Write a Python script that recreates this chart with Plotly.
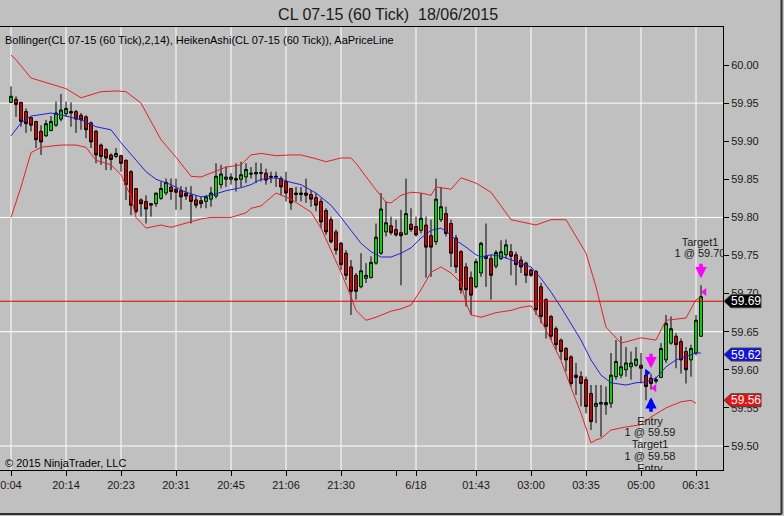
import plotly.graph_objects as go

# Heiken Ashi bars (60 tick), index = bar number
bars = list(range(139))
ha_open = [
    59.951, 59.955, 59.951, 59.939, 59.931, 59.926, 59.913, 59.907, 59.914, 59.921,
    59.929, 59.936, 59.939, 59.939, 59.934, 59.932, 59.924, 59.913, 59.895, 59.889,
    59.882, 59.880, 59.881, 59.875, 59.860, 59.838, 59.823, 59.821, 59.816, 59.818,
    59.825, 59.832, 59.840, 59.837, 59.835, 59.832, 59.829, 59.823, 59.822, 59.821,
    59.824, 59.828, 59.843, 59.850, 59.850, 59.851, 59.850, 59.853, 59.858, 59.857,
    59.859, 59.858, 59.854, 59.854, 59.851, 59.847, 59.838, 59.832, 59.830, 59.832,
    59.830, 59.826, 59.821, 59.809, 59.797, 59.781, 59.766, 59.753, 59.735, 59.724,
    59.709, 59.720, 59.721, 59.740, 59.753, 59.781, 59.789, 59.784, 59.780, 59.778,
    59.791, 59.788, 59.783, 59.790, 59.776, 59.768, 59.797, 59.805, 59.792, 59.773,
    59.755, 59.735, 59.721, 59.709, 59.727, 59.746, 59.746, 59.736, 59.746, 59.751,
    59.755, 59.751, 59.744, 59.740, 59.731, 59.729, 59.709, 59.692, 59.670, 59.654,
    59.639, 59.628, 59.617, 59.593, 59.591, 59.587, 59.569, 59.552, 59.555, 59.554,
    59.556, 59.591, 59.593, 59.600, 59.604, 59.606, 59.606, 59.593, 59.589, 59.585,
    59.590, 59.613, 59.635, 59.644, 59.637, 59.624, 59.613, 59.622, 59.644,
]
ha_high = [
    59.972, 59.959, 59.951, 59.943, 59.932, 59.926, 59.921, 59.928, 59.933, 59.952,
    59.962, 59.952, 59.951, 59.941, 59.937, 59.934, 59.926, 59.915, 59.897, 59.891,
    59.884, 59.891, 59.882, 59.876, 59.862, 59.838, 59.825, 59.829, 59.819, 59.832,
    59.847, 59.851, 59.851, 59.851, 59.841, 59.840, 59.841, 59.829, 59.827, 59.829,
    59.840, 59.871, 59.869, 59.867, 59.858, 59.871, 59.873, 59.871, 59.866, 59.872,
    59.871, 59.864, 59.860, 59.860, 59.854, 59.860, 59.838, 59.840, 59.840, 59.851,
    59.836, 59.832, 59.825, 59.812, 59.801, 59.784, 59.768, 59.757, 59.744, 59.727,
    59.753, 59.740, 59.749, 59.792, 59.832, 59.821, 59.801, 59.797, 59.810, 59.851,
    59.812, 59.801, 59.832, 59.801, 59.797, 59.851, 59.840, 59.814, 59.797, 59.777,
    59.757, 59.740, 59.729, 59.746, 59.768, 59.792, 59.751, 59.757, 59.770, 59.771,
    59.765, 59.755, 59.749, 59.742, 59.733, 59.731, 59.714, 59.694, 59.672, 59.657,
    59.641, 59.630, 59.619, 59.609, 59.598, 59.591, 59.580, 59.580, 59.580, 59.578,
    59.622, 59.639, 59.644, 59.630, 59.624, 59.630, 59.622, 59.600, 59.595, 59.591,
    59.635, 59.672, 59.670, 59.648, 59.641, 59.630, 59.633, 59.672, 59.711,
]
ha_low = [
    59.950, 59.932, 59.919, 59.911, 59.913, 59.891, 59.882, 59.906, 59.913, 59.919,
    59.926, 59.932, 59.919, 59.911, 59.915, 59.904, 59.891, 59.871, 59.869, 59.862,
    59.862, 59.878, 59.860, 59.823, 59.803, 59.805, 59.801, 59.792, 59.801, 59.814,
    59.823, 59.829, 59.823, 59.810, 59.810, 59.823, 59.792, 59.812, 59.812, 59.812,
    59.814, 59.825, 59.838, 59.840, 59.843, 59.834, 59.840, 59.845, 59.851, 59.845,
    59.847, 59.843, 59.845, 59.840, 59.829, 59.821, 59.810, 59.821, 59.821, 59.819,
    59.814, 59.808, 59.786, 59.777, 59.766, 59.751, 59.731, 59.718, 59.672, 59.692,
    59.707, 59.714, 59.720, 59.738, 59.751, 59.775, 59.777, 59.775, 59.711, 59.777,
    59.781, 59.775, 59.779, 59.721, 59.722, 59.764, 59.794, 59.775, 59.735, 59.727,
    59.700, 59.683, 59.672, 59.707, 59.722, 59.709, 59.692, 59.733, 59.744, 59.746,
    59.724, 59.711, 59.727, 59.714, 59.722, 59.672, 59.661, 59.641, 59.639, 59.626,
    59.613, 59.598, 59.578, 59.567, 59.552, 59.543, 59.521, 59.530, 59.512, 59.541,
    59.550, 59.587, 59.589, 59.591, 59.587, 59.604, 59.582, 59.560, 59.574, 59.582,
    59.589, 59.609, 59.633, 59.602, 59.595, 59.582, 59.591, 59.619, 59.644,
]
ha_close = [
    59.959, 59.948, 59.926, 59.923, 59.921, 59.902, 59.899, 59.923, 59.926, 59.937,
    59.941, 59.943, 59.937, 59.929, 59.928, 59.915, 59.899, 59.882, 59.880, 59.878,
    59.876, 59.884, 59.871, 59.843, 59.816, 59.808, 59.818, 59.811, 59.818, 59.832,
    59.838, 59.846, 59.834, 59.833, 59.827, 59.828, 59.821, 59.816, 59.818, 59.827,
    59.832, 59.854, 59.857, 59.853, 59.853, 59.849, 59.856, 59.863, 59.857, 59.859,
    59.858, 59.849, 59.853, 59.853, 59.840, 59.832, 59.819, 59.830, 59.832, 59.829,
    59.824, 59.816, 59.794, 59.781, 59.768, 59.757, 59.738, 59.724, 59.703, 59.703,
    59.730, 59.724, 59.741, 59.774, 59.811, 59.793, 59.780, 59.777, 59.776, 59.805,
    59.784, 59.777, 59.799, 59.761, 59.761, 59.824, 59.814, 59.779, 59.753, 59.735,
    59.705, 59.705, 59.698, 59.742, 59.766, 59.749, 59.724, 59.754, 59.755, 59.764,
    59.749, 59.738, 59.735, 59.724, 59.724, 59.679, 59.670, 59.657, 59.644, 59.633,
    59.624, 59.613, 59.582, 59.590, 59.582, 59.552, 59.532, 59.556, 59.557, 59.557,
    59.593, 59.611, 59.604, 59.609, 59.609, 59.614, 59.602, 59.578, 59.582, 59.587,
    59.628, 59.661, 59.654, 59.633, 59.613, 59.600, 59.628, 59.665, 59.696,
]

# Bollinger(2,14)
upper_x = [0, 1, 4, 6, 8, 10, 11, 14, 18, 21, 23, 26, 28, 30, 33, 36, 38, 40, 43, 46,
           48, 50, 53, 56, 58, 61, 63, 66, 68, 69, 71, 73, 75, 76, 78, 80, 82, 84, 85, 88,
           90, 93, 96, 98, 100, 105, 108, 111, 115, 117, 119, 122, 126, 129, 131, 135, 137, 138]
upper = [60.013, 60.007, 59.983, 59.979, 59.976, 59.971, 59.969, 59.957, 59.965, 59.966,
         59.965, 59.950, 59.925, 59.902, 59.879, 59.854, 59.853, 59.858, 59.866, 59.869,
         59.882, 59.884, 59.881, 59.882, 59.882, 59.877, 59.873, 59.878, 59.878, 59.871,
         59.853, 59.836, 59.820, 59.819, 59.829, 59.833, 59.832, 59.829, 59.840, 59.837,
         59.852, 59.845, 59.833, 59.815, 59.797, 59.790, 59.797, 59.797, 59.753, 59.709,
         59.656, 59.635, 59.642, 59.639, 59.665, 59.668, 59.692, 59.695]
mid_x = [0, 2, 4, 8, 11, 14, 17, 20, 22, 25, 27, 29, 32, 35, 38, 40, 43, 46, 48, 50,
         53, 56, 58, 61, 64, 66, 68, 70, 72, 74, 76, 78, 80, 82, 84, 86, 88, 89, 91, 93,
         94, 96, 98, 100, 102, 104, 106, 108, 110, 112, 114, 116, 118, 120, 123, 125, 127,
         129, 131, 133, 135, 137, 138]
mid = [59.907, 59.924, 59.933, 59.937, 59.933, 59.928, 59.919, 59.915, 59.898, 59.875,
       59.860, 59.850, 59.843, 59.833, 59.827, 59.829, 59.835, 59.839, 59.843, 59.850,
       59.852, 59.846, 59.843, 59.832, 59.816, 59.800, 59.783, 59.766, 59.755, 59.748,
       59.748, 59.753, 59.760, 59.773, 59.783, 59.786, 59.777, 59.770, 59.761, 59.751,
       59.748, 59.751, 59.749, 59.744, 59.740, 59.735, 59.720, 59.702, 59.682, 59.661,
       59.639, 59.613, 59.593, 59.583, 59.580, 59.583, 59.584, 59.589, 59.604, 59.613,
       59.617, 59.622, 59.622]
lower_x = [0, 2, 4, 6, 10, 13, 15, 17, 20, 22, 24, 25, 27, 30, 32, 35, 38, 40, 44, 47,
           48, 50, 52, 53, 56, 58, 60, 62, 64, 66, 68, 69, 71, 73, 76, 78, 80, 82, 84, 86,
           88, 90, 91, 92, 94, 97, 100, 102, 104, 106, 108, 110, 112, 114, 116, 117, 118,
           120, 123, 126, 128, 131, 134, 136, 137]
lower = [59.800, 59.840, 59.885, 59.892, 59.895, 59.895, 59.892, 59.875, 59.869, 59.856,
         59.827, 59.800, 59.786, 59.790, 59.787, 59.793, 59.798, 59.800, 59.800, 59.806,
         59.812, 59.815, 59.827, 59.832, 59.824, 59.816, 59.807, 59.786, 59.757, 59.728,
         59.696, 59.678, 59.665, 59.669, 59.677, 59.680, 59.685, 59.705, 59.728, 59.735,
         59.727, 59.714, 59.688, 59.672, 59.669, 59.675, 59.678, 59.682, 59.684, 59.665,
         59.639, 59.612, 59.577, 59.543, 59.504, 59.508, 59.510, 59.521, 59.525, 59.528,
         59.538, 59.550, 59.558, 59.560, 59.556]

last_price = 59.69
tag_prices = [59.69, 59.62, 59.56]
tag_colors = ["black", "#1010E8", "#E81010"]

tick_bars = [0, 11, 22, 33, 44, 55, 66, 77, 81, 93, 104, 115, 126, 137]
tick_text = ["0:04", "20:14", "20:23", "20:31", "20:45", "21:06", "21:30", "",
             "6/18", "01:43", "03:00", "03:35", "05:00", "06:31"]
grid_bars = [0, 11, 22, 33, 44, 55, 66, 81, 93, 104, 115, 126, 137]
grid_prices = [59.50, 59.65, 59.80, 59.95]

# executions
arrow_bars = [128, 128, 138]
arrow_prices = [59.564, 59.602, 59.720]
arrow_up = [True, False, False]
arrow_colors = ["#0000FF", "#FF00FF", "#FF00FF"]
fill_x = [127.2, 128.7, 138.7]
fill_prices = [59.596, 59.576, 59.702]
fill_symbols = ["triangle-right", "triangle-left", "triangle-left"]
fill_colors = ["#0000FF", "#FF00FF", "#FF00FF"]
label_x = [127.8, 127.8, 127.8, 127.8, 127.8, 137.8, 137.8]
label_y = [59.5315, 59.5171, 59.5013, 59.4856, 59.4698, 59.7664, 59.7520]
label_text = ["Entry", "1 @ 59.59", "Target1", "1 @ 59.58", "Entry", "Target1", "1 @ 59.70"]

FONT = "Arial, Liberation Sans, sans-serif"
GRAY = "#C0C0C0"
PW = 723.0  # plot width in px

fig = go.Figure()
fig.add_trace(go.Scatter(x=upper_x, y=upper, mode="lines", line=dict(color="#E82020", width=1)))
fig.add_trace(go.Scatter(x=lower_x, y=lower, mode="lines", line=dict(color="#E82020", width=1)))
fig.add_trace(go.Scatter(x=mid_x, y=mid, mode="lines", line=dict(color="#2020E0", width=1)))
fig.add_trace(go.Candlestick(
    x=bars, open=ha_open, high=ha_high, low=ha_low, close=ha_close,
    whiskerwidth=0,
    increasing=dict(fillcolor="#00F000", line=dict(color="black", width=1)),
    decreasing=dict(fillcolor="#E00000", line=dict(color="black", width=1)),
))
fig.add_trace(go.Scatter(x=fill_x, y=fill_prices, mode="markers",
                         marker=dict(symbol=fill_symbols, color=fill_colors, size=7)))
fig.add_trace(go.Scatter(x=label_x, y=label_y, mode="text", text=label_text,
                         textfont=dict(family=FONT, size=11, color="#1a1a1a")))

shapes = []
for b in grid_bars:
    shapes.append(dict(type="line", xref="x", yref="paper", x0=b, x1=b, y0=0, y1=1,
                       line=dict(color="white", width=1), layer="below"))
for p in grid_prices:
    shapes.append(dict(type="line", xref="paper", yref="y", x0=0, x1=1, y0=p, y1=p,
                       line=dict(color="white", width=1), layer="below"))
shapes.append(dict(type="line", xref="paper", yref="y", x0=0, x1=1, y0=last_price, y1=last_price,
                   line=dict(color="#E00000", width=1), layer="above"))

# price tags on the right axis
h = 6.5 / 762
for p, c in zip(tag_prices, tag_colors):
    path = (f"M {724 / PW},{p} L {731 / PW},{p + h} L {761 / PW},{p + h} "
            f"L {761 / PW},{p - h} L {731 / PW},{p - h} Z")
    shapes.append(dict(type="path", xref="paper", yref="y", path=path,
                       fillcolor=c, line=dict(color="#404040", width=1), layer="above"))

# outer window frame (right and bottom)
shapes.append(dict(type="line", xref="paper", yref="paper", x0=781.5 / PW, x1=781.5 / PW,
                   y0=-44 / 443, y1=470 / 443, line=dict(color="#303030", width=2)))
shapes.append(dict(type="line", xref="paper", yref="paper", x0=0, x1=781.5 / PW,
                   y0=-44 / 443, y1=-44 / 443, line=dict(color="#303030", width=2)))

annotations = []
for p in tag_prices:
    annotations.append(dict(xref="paper", yref="y", x=746 / PW, y=p, text=f"{p:.2f}",
                            xanchor="center", yanchor="middle", showarrow=False,
                            font=dict(family=FONT, size=12, color="white")))
for b, p, up, c in zip(arrow_bars, arrow_prices, arrow_up, arrow_colors):
    annotations.append(dict(x=b, y=p, xref="x", yref="y", text="", showarrow=True,
                            ax=0, ay=16 if up else -16, arrowhead=2, arrowsize=0.65,
                            arrowwidth=3.5, arrowcolor=c, standoff=0))
annotations.append(dict(xref="paper", yref="paper", x=3 / PW, y=430 / 443, xanchor="left",
                        yanchor="middle", showarrow=False,
                        text="Bollinger(CL 07-15 (60 Tick),2,14), HeikenAshi(CL 07-15 (60 Tick)), AaPriceLine",
                        font=dict(family=FONT, size=11, color="black")))
annotations.append(dict(xref="paper", yref="paper", x=3 / PW, y=7 / 443, xanchor="left",
                        yanchor="middle", showarrow=False, text="© 2015 NinjaTrader, LLC",
                        font=dict(family=FONT, size=11, color="black")))

fig.update_layout(
    width=784, height=516,
    margin=dict(l=0, r=61, t=27, b=46),
    paper_bgcolor=GRAY, plot_bgcolor=GRAY,
    showlegend=False, hovermode=False,
    boxgap=0.2,
    title=dict(text="CL 07-15 (60 Tick)  18/06/2015", x=0.495, xref="container",
               y=1 - 14 / 516, yref="container", xanchor="center", yanchor="middle",
               font=dict(family=FONT, size=16, color="#1a1a1a")),
    font=dict(family=FONT, size=11, color="#1a1a1a"),
    shapes=shapes, annotations=annotations,
)
fig.update_xaxes(range=[-2.2, 142.4], tickmode="array", tickvals=tick_bars, ticktext=tick_text,
                 ticks="outside", ticklen=5, tickcolor="black", showgrid=False, zeroline=False,
                 showline=True, linecolor="black", mirror=True, rangeslider_visible=False,
                 ticklabeloverflow="allow",
                 tickfont=dict(family=FONT, size=11, color="#1a1a1a"))
fig.update_yaxes(range=[59.4685, 60.0499], side="right", tick0=59.5, dtick=0.05, tickformat=".2f",
                 ticks="outside", ticklen=5, tickcolor="black", showgrid=False, zeroline=False,
                 showline=True, linecolor="black", mirror=True,
                 tickfont=dict(family=FONT, size=11, color="#1a1a1a"))

fig.write_html("out.html", config={"displayModeBar": False},
               post_script="document.body.style.margin='0';")
